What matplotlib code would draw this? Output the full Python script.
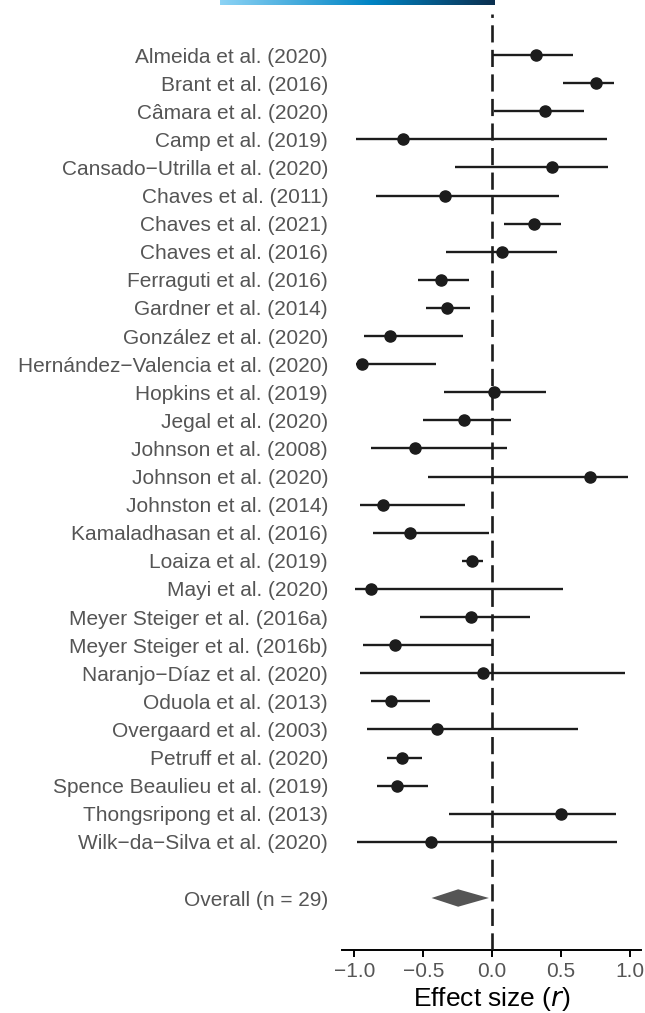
import numpy as np
import matplotlib
matplotlib.use('Agg')
import matplotlib.pyplot as plt
from matplotlib.colors import LinearSegmentedColormap

plt.rcParams['font.family'] = ['Liberation Sans', 'DejaVu Sans']

studies = [
    'Almeida et al. (2020)', 'Brant et al. (2016)', 'Câmara et al. (2020)',
    'Camp et al. (2019)', 'Cansado\u2212Utrilla et al. (2020)', 'Chaves et al. (2011)',
    'Chaves et al. (2021)', 'Chaves et al. (2016)', 'Ferraguti et al. (2016)',
    'Gardner et al. (2014)', 'González et al. (2020)',
    'Hernández\u2212Valencia et al. (2020)', 'Hopkins et al. (2019)',
    'Jegal et al. (2020)', 'Johnson et al. (2008)', 'Johnson et al. (2020)',
    'Johnston et al. (2014)', 'Kamaladhasan et al. (2016)', 'Loaiza et al. (2019)',
    'Mayi et al. (2020)', 'Meyer Steiger et al. (2016a)',
    'Meyer Steiger et al. (2016b)', 'Naranjo\u2212Díaz et al. (2020)',
    'Oduola et al. (2013)', 'Overgaard et al. (2003)', 'Petruff et al. (2020)',
    'Spence Beaulieu et al. (2019)', 'Thongsripong et al. (2013)',
    'Wilk\u2212da\u2212Silva et al. (2020)',
]
effect = [0.317, 0.750, 0.382, -0.650, 0.433, -0.341, 0.300, 0.073, -0.372,
          -0.331, -0.742, -0.948, 0.012, -0.208, -0.563, 0.707, -0.796, -0.595,
          -0.145, -0.883, -0.152, -0.704, -0.070, -0.735, -0.397, -0.658,
          -0.694, 0.501, -0.445]
ci_low = [-0.004, 0.513, 0.012, -0.990, -0.271, -0.844, 0.085, -0.338, -0.539,
          -0.479, -0.931, -0.990, -0.348, -0.500, -0.878, -0.464, -0.958, -0.866,
          -0.218, -0.994, -0.522, -0.936, -0.960, -0.878, -0.909, -0.762,
          -0.835, -0.312, -0.980]
ci_high = [0.586, 0.884, 0.665, 0.835, 0.842, 0.484, 0.496, 0.472, -0.171,
           -0.162, -0.210, -0.411, 0.387, 0.136, 0.104, 0.985, -0.200, -0.024,
           -0.065, 0.515, 0.274, 0.000, 0.963, -0.450, 0.620, -0.512,
           -0.464, 0.898, 0.907]

overall_label = 'Overall (n = 29)'
overall_est = -0.247
overall_low = -0.440
overall_high = -0.024

x_ticks = [-1.0, -0.5, 0.0, 0.5, 1.0]

W, H = 645, 1013
fig = plt.figure(figsize=(W / 100, H / 100), dpi=100)

# panel in pixel terms
left_px, right_px, top_px, bottom_px = 342, 641, 14, 950
ax = fig.add_axes([left_px / W, (H - bottom_px) / H,
                   (right_px - left_px) / W, (bottom_px - top_px) / H])

ypos = np.arange(len(studies))
overall_y = len(studies) + 1

dark = '#1c1c1c'
ax.hlines(ypos, ci_low, ci_high, color=dark, linewidth=1.7, zorder=2)
ax.plot(effect, ypos, 'o', color=dark, markersize=8, zorder=3)

# summary diamond
dh = 0.31
ax.fill([overall_low, overall_est, overall_high, overall_est],
        [overall_y, overall_y - dh, overall_y, overall_y + dh],
        color='#555555', linewidth=0, zorder=3)

vl = ax.axvline(0, color=dark, linewidth=1.9, zorder=4)
vl.set_dashes((6.5, 2.8))

row_px = 28.1
first_px = 55
ax.set_ylim((bottom_px - first_px) / row_px, (top_px - first_px) / row_px)
ax.set_xlim(-1.09, 1.08)

ax.set_yticks(list(ypos) + [overall_y])
ax.set_yticklabels(studies + [overall_label])
ax.tick_params(axis='y', length=0, pad=10, labelsize=15, labelcolor='#555555')

ax.set_xticks(x_ticks)
ax.set_xticklabels([f'{t:.1f}'.replace('-', '\u2212') for t in x_ticks])
ax.tick_params(axis='x', length=5, width=1.4, pad=3.5, labelsize=15,
               labelcolor='#555555', color='black')
ax.set_xlabel('Effect size ($\\it{r}$)', fontsize=19, labelpad=3)

for side in ['top', 'right', 'left']:
    ax.spines[side].set_visible(False)
ax.spines['bottom'].set_linewidth(1.4)

# gradient strip at the very top
gax = fig.add_axes([220 / W, (H - 5) / H, 274 / W, 5 / H])
cmap = LinearSegmentedColormap.from_list(
    'strip', [(0, '#8cd3f5'), (0.55, '#0084c4'), (1, '#0b2f4f')])
gax.imshow(np.linspace(0, 1, 256)[None, :], aspect='auto', cmap=cmap)
gax.axis('off')

fig.savefig('out.png', dpi=100)
